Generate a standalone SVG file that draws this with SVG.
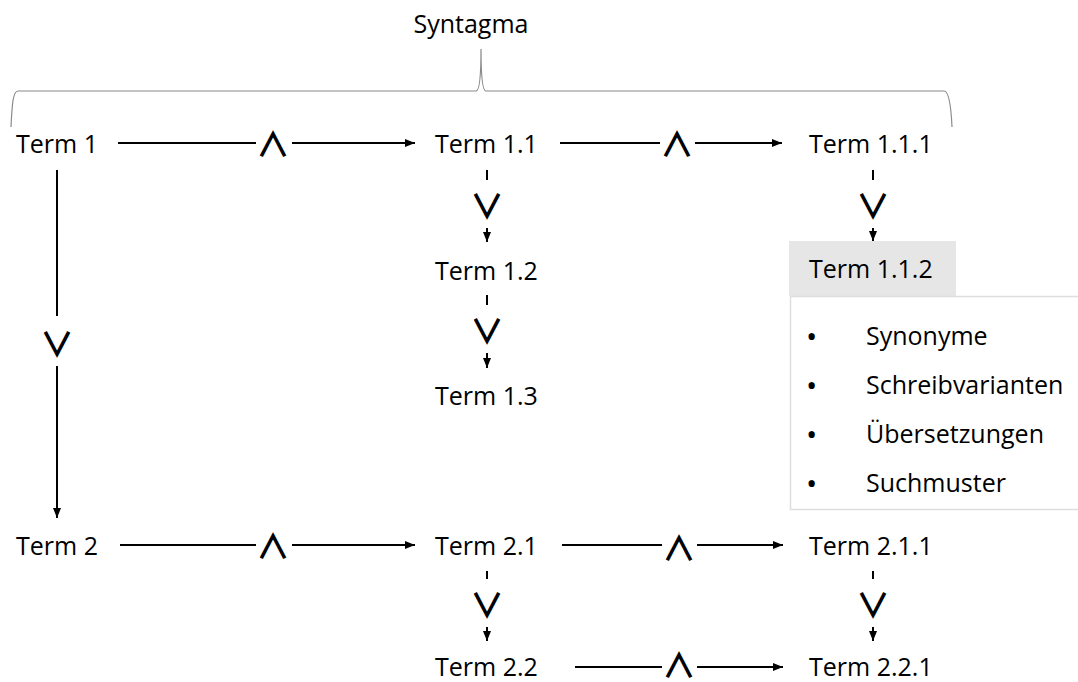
<svg xmlns="http://www.w3.org/2000/svg" width="1078" height="682" viewBox="0 0 1078 682">
<defs>
<marker id="ah" viewBox="0 0 10 8" refX="10" refY="4" markerWidth="10" markerHeight="8" markerUnits="userSpaceOnUse" orient="auto">
<path d="M0,0 L10,4 L0,8 z" fill="#000"/>
</marker>
<style>
text{font-family:"Open Sans","Noto Sans","DejaVu Sans",sans-serif;font-size:25px;fill:#000}
.op{font-family:"Noto Sans CJK JP","Noto Sans CJK SC","DejaVu Sans",sans-serif;font-size:34px;font-weight:700;text-anchor:middle}
.bul{font-size:30px}
.line{stroke:#000;stroke-width:2;fill:none}
.thin{stroke:#000;stroke-width:2;fill:none}
.mid{text-anchor:middle}
</style>
</defs>
<rect width="1078" height="682" fill="#fff"/>
<g id="bracket">
<path d="M11,127 C12,105 13,91 18,91 L476,91 C480,91 481,70 481,49 C481,70 482,91 486,91 L944,91 C949,91 951,105 952,127" fill="none" stroke="#8a8a8a" stroke-width="1.2"/>
<text x="471" y="33" class="mid">Syntagma</text>
</g>
<g id="term1"><text x="16" y="153">Term 1</text></g>
<g id="term11"><text x="435" y="153">Term 1.1</text></g>
<g id="term111"><text x="809" y="153">Term 1.1.1</text></g>
<g id="term12"><text x="435" y="280">Term 1.2</text></g>
<g id="term13"><text x="435" y="405">Term 1.3</text></g>
<g id="term112">
<rect x="789" y="241" width="167" height="55" fill="#e6e6e6"/>
<text x="809" y="278">Term 1.1.2</text>
<rect x="790.5" y="296.5" width="295" height="213" fill="#fff" stroke="#dedede" stroke-width="1.5"/>
<text class="bul" x="806" y="347">•</text><text x="866" y="345">Synonyme</text>
<text class="bul" x="806" y="396">•</text><text x="866" y="394">Schreibvarianten</text>
<text class="bul" x="806" y="445">•</text><text x="866" y="443">Übersetzungen</text>
<text class="bul" x="806" y="494">•</text><text x="866" y="492">Suchmuster</text>
</g>
<g id="term2"><text x="16" y="555">Term 2</text></g>
<g id="term21"><text x="435" y="555">Term 2.1</text></g>
<g id="term211"><text x="809" y="555">Term 2.1.1</text></g>
<g id="term22"><text x="435" y="676">Term 2.2</text></g>
<g id="term221"><text x="809" y="676">Term 2.2.1</text></g>
<g id="connectors">
<line class="line" x1="118" y1="143" x2="256" y2="143"/>
<text class="op" x="273" y="157">∧</text>
<line class="line" x1="292" y1="143" x2="415" y2="143" marker-end="url(#ah)"/>
<line class="line" x1="560" y1="143" x2="660" y2="143"/>
<text class="op" x="677" y="157">∧</text>
<line class="line" x1="695" y1="143" x2="782" y2="143" marker-end="url(#ah)"/>
<line class="line" x1="120" y1="545" x2="256" y2="545"/>
<text class="op" x="273" y="559">∧</text>
<line class="line" x1="292" y1="545" x2="415" y2="545" marker-end="url(#ah)"/>
<line class="line" x1="562" y1="545" x2="662" y2="545"/>
<text class="op" x="679" y="561">∧</text>
<line class="line" x1="697" y1="545" x2="783" y2="545" marker-end="url(#ah)"/>
<line class="line" x1="575" y1="667" x2="662" y2="667"/>
<text class="op" x="679" y="678">∧</text>
<line class="line" x1="697" y1="667" x2="783" y2="667" marker-end="url(#ah)"/>
<line class="line" x1="57" y1="170" x2="57" y2="316"/>
<text class="op" x="57" y="357">∨</text>
<line class="line" x1="57" y1="366" x2="57" y2="518" marker-end="url(#ah)"/>
<line class="thin" x1="487" y1="170" x2="487" y2="180"/>
<text class="op" x="487" y="219">∨</text>
<line class="thin" x1="487" y1="228" x2="487" y2="242" marker-end="url(#ah)"/>
<line class="thin" x1="487" y1="295" x2="487" y2="305"/>
<text class="op" x="487" y="344">∨</text>
<line class="thin" x1="487" y1="353" x2="487" y2="368" marker-end="url(#ah)"/>
<line class="thin" x1="487" y1="571" x2="487" y2="579"/>
<text class="op" x="487" y="618">∨</text>
<line class="thin" x1="487" y1="627" x2="487" y2="641" marker-end="url(#ah)"/>
<line class="thin" x1="873" y1="170" x2="873" y2="180"/>
<text class="op" x="873" y="219">∨</text>
<line class="thin" x1="873" y1="228" x2="873" y2="241" marker-end="url(#ah)"/>
<line class="thin" x1="873" y1="571" x2="873" y2="579"/>
<text class="op" x="873" y="618">∨</text>
<line class="thin" x1="873" y1="627" x2="873" y2="641" marker-end="url(#ah)"/>
</g>
</svg>
